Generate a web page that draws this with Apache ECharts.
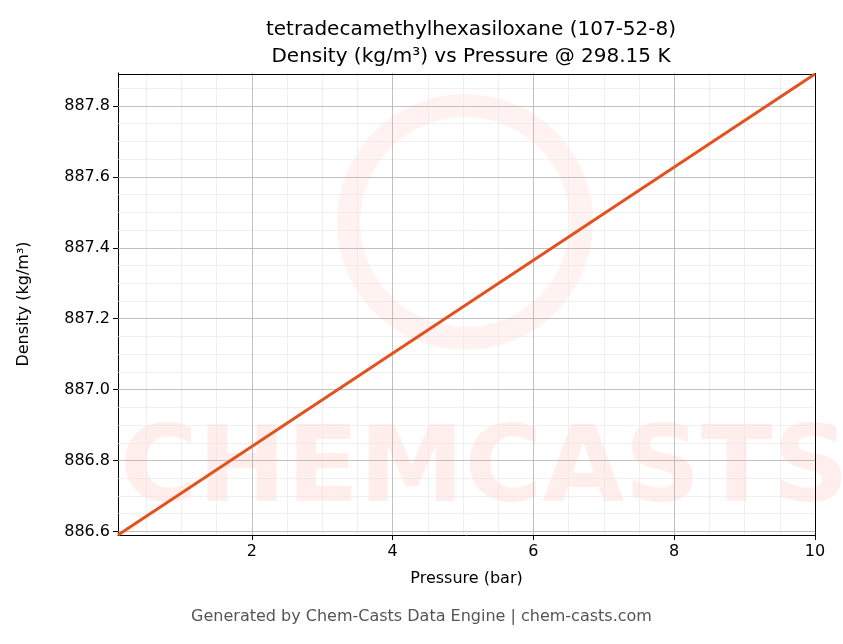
<!DOCTYPE html>
<html>
<head>
<meta charset="utf-8">
<script src="https://cdn.jsdelivr.net/npm/echarts@6/dist/echarts.min.js"></script>
<style>
  html, body { margin: 0; padding: 0; background: #fff; }
  #chart { width: 843px; height: 644px; }
</style>
</head>
<body>
<div id="chart"></div>
<script>
// Data
const pressure = [0.1, 10];
const density = [886.59, 887.89];
const xTicks = [2, 4, 6, 8, 10];
const yTicks = [886.6, 886.8, 887.0, 887.2, 887.4, 887.6, 887.8];
const xMinor = [0.5, 1, 1.5, 2.5, 3, 3.5, 4.5, 5, 5.5, 6.5, 7, 7.5, 8.5, 9, 9.5];
const yMinor = [886.65, 886.7, 886.75, 886.85, 886.9, 886.95, 887.05, 887.1, 887.15,
  887.25, 887.3, 887.35, 887.45, 887.5, 887.55, 887.65, 887.7, 887.75, 887.85];

const chart = echarts.init(document.getElementById('chart'));

const majorLine = { color: '#b0b0b0', width: 0.8, type: 'solid' };
const minorLine = { color: '#e6e6e6', width: 0.6, type: 'solid' };
function gridLines(vals, key, style) {
    return vals.map(v => ({ [key]: v, lineStyle: style }));
}

const option = {
    animation: false,
    backgroundColor: '#fff',
    title: {
        text: 'tetradecamethylhexasiloxane (107-52-8)\nDensity (kg/m³) vs Pressure @ 298.15 K',
        left: 466, top: 11, textAlign: 'center',
        textStyle: { fontFamily: 'DejaVu Sans', fontSize: 20, fontWeight: 'normal', color: '#000', lineHeight: 27 }
    },
    graphic: [
        {
            type: 'text', left: 'center', top: 609,
            style: { text: 'Generated by Chem-Casts Data Engine | chem-casts.com', fontFamily: 'DejaVu Sans', fontSize: 16, fill: '#555' }
        },
        {
            type: 'text', left: 120, top: 420, silent: true, z: 0,
            style: { text: 'CHEMCASTS', fontFamily: 'DejaVu Sans', fontWeight: 'bold', fontSize: 106, fill: 'rgba(255,90,70,0.1)' }
        },
        {
            type: 'ring', shape: { cx: 465, cy: 222, r: 128, r0: 105 }, silent: true, z: 0,
            style: { fill: 'rgba(255,90,70,0.08)' }
        }
    ],
    grid: { left: 118, right: 28, top: 73, bottom: 109 },
    xAxis: {
        type: 'value', min: 0.1, max: 10,
        name: 'Pressure (bar)', nameLocation: 'middle', nameGap: 36,
        nameTextStyle: { fontFamily: 'DejaVu Sans', fontSize: 16, color: '#000' },
        axisLine: { onZero: false, lineStyle: { color: '#000' } },
        axisTick: { customValues: xTicks, length: 5, lineStyle: { color: '#000' } },
        axisLabel: { customValues: xTicks, fontFamily: 'DejaVu Sans', fontSize: 16, color: '#000', margin: 9 },
        splitLine: { show: false }
    },
    yAxis: {
        type: 'value', min: 886.59, max: 887.893,
        name: 'Density (kg/m³)', nameLocation: 'middle', nameGap: 86,
        nameTextStyle: { fontFamily: 'DejaVu Sans', fontSize: 16, color: '#000' },
        axisLine: { show: true, onZero: false, lineStyle: { color: '#000' } },
        axisTick: { customValues: yTicks, length: 5, lineStyle: { color: '#000' } },
        axisLabel: { customValues: yTicks, fontFamily: 'DejaVu Sans', fontSize: 16, color: '#000',
            formatter: v => v.toFixed(1) },
        splitLine: { show: false }
    },
    series: [
        {
            type: 'line',
            data: pressure.map((p, i) => [p, density[i]]),
            symbol: 'none',
            lineStyle: { color: '#e0531f', width: 3 },
            z: 5,
            markLine: {
                silent: true, symbol: 'none', label: { show: false }, animation: false,
                data: [].concat(
                    gridLines(xMinor, 'xAxis', minorLine),
                    gridLines(yMinor, 'yAxis', minorLine),
                    gridLines(xTicks.slice(0, 4), 'xAxis', majorLine),
                    gridLines(yTicks, 'yAxis', majorLine)
                )
            }
        },
        {
            // frame on top/right
            type: 'line', data: [],
            markLine: {
                silent: true, symbol: 'none', label: { show: false },
                data: [
                    { xAxis: 10, lineStyle: { color: '#000', width: 1, type: 'solid' } },
                    { yAxis: 887.893, lineStyle: { color: '#000', width: 1, type: 'solid' } }
                ]
            }
        }
    ]
};
chart.setOption(option);
</script>
</body>
</html>
